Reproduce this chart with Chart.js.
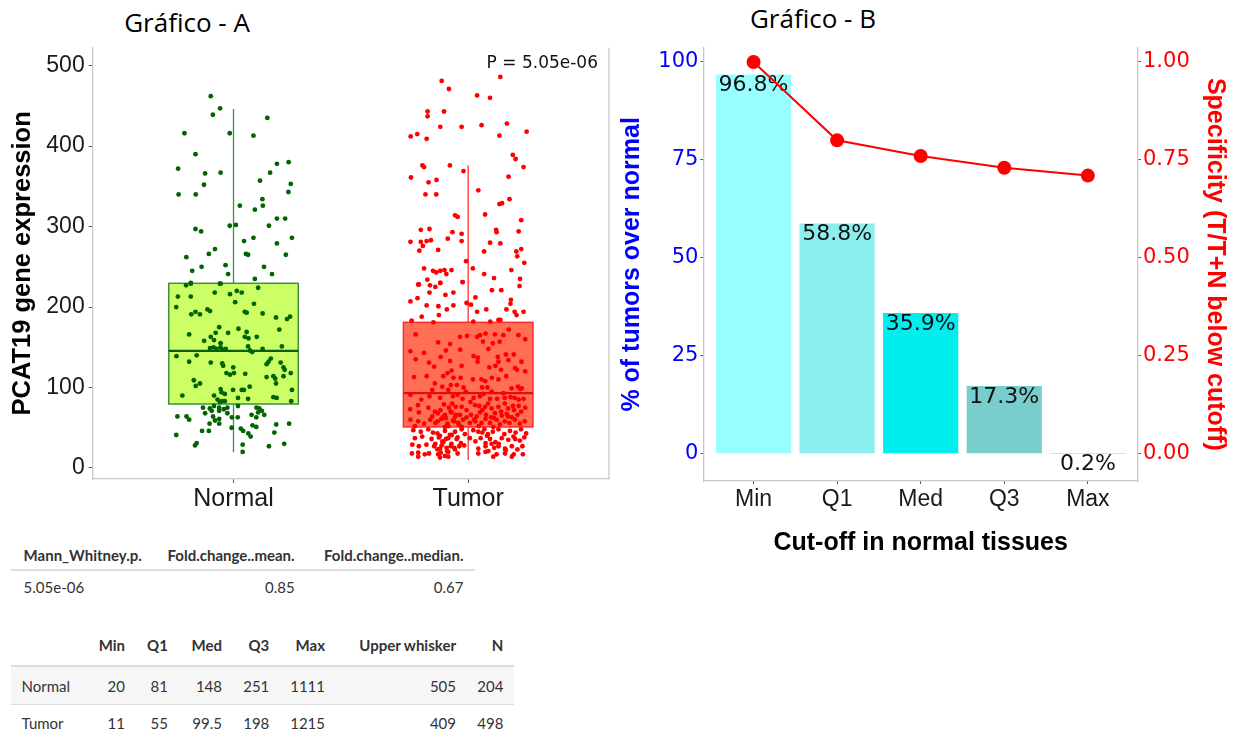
<!DOCTYPE html>
<html>
<head>
<meta charset="utf-8">
<script src="https://cdn.jsdelivr.net/npm/chart.js@4.4.1/dist/chart.umd.min.js"></script>
<style>
html, body { margin: 0; padding: 0; background: #fff; }
body { width: 1237px; height: 733px; position: relative; overflow: hidden; }
.title { position: absolute; font-family: "Open Sans", sans-serif; font-size: 26px; line-height: 26px; color: #000; transform: translateX(-50%); white-space: nowrap; }
#wrapA { position: absolute; left: 0; top: 0; width: 620px; height: 520px; }
#wrapB { position: absolute; left: 620px; top: 0; width: 617px; height: 560px; }
.cell { position: absolute; height: 20px; line-height: 20px; font-family: Lato, sans-serif; font-size: 15px; color: #333; white-space: nowrap; }
.hline { position: absolute; background: #ddd; }
</style>
</head>
<body>
<div class="title" style="left:187px; top:9px;">Gráfico - A</div>
<div class="title" style="left:813px; top:5px;">Gráfico - B</div>
<div id="wrapA"><canvas id="chartA" width="620" height="520"></canvas></div>
<div id="wrapB"><canvas id="chartB" width="617" height="560"></canvas></div>
<div id="tables"></div>
<script>
// ---- Gráfico A: expressão por grupo ----
const groups = ['Normal', 'Tumor'];
const boxLow = [19.5, 10];
const boxQ1 = [79.5, 51];
const boxMedian = [145.5, 93];
const boxQ3 = [229.5, 181];
const boxHigh = [446, 376];
const yTicksA = [0, 100, 200, 300, 400, 500];
const pValueLabel = 'P = 5.05e-06';

// [deslocamento do jitter, expressão]
const normalPoints = [
  [-0.097,462],[-0.057,447],[-0.088,439],[0.144,435],[-0.209,416],[-0.016,416],[0.085,413],[-0.162,390],[-0.236,372],[-0.121,366],
  [-0.055,367],[0.185,378],[0.235,380],[0.156,367],[0.113,357],[0.244,353],[-0.126,352],[-0.234,340],[-0.161,340],[0.234,343],
  [0.123,334],[0.027,326],[0.125,326],[0.091,321],[0.185,310],[0.220,310],[0.151,301],[-0.016,301],[0.010,302],[-0.162,297],
  [-0.138,294],[0.045,282],[0.085,286],[0.185,279],[0.249,286],[-0.079,272],[-0.105,266],[-0.201,262],[0.053,266],[0.062,265],
  [0.223,265],[-0.176,245],[-0.136,250],[-0.034,252],[-0.023,241],[0.130,250],[0.164,241],[0.091,235],[-0.182,230],[-0.055,229],
  [-0.202,227],[-0.182,229],[-0.058,229],[0.105,224],[-0.237,213],[-0.182,213],[-0.080,218],[-0.015,216],[0.014,220],[0.035,218],
  [-0.244,200],[0.007,206],[0.087,204],[-0.180,191],[-0.162,194],[-0.143,191],[-0.111,197],[-0.100,195],[0.048,194],[0.056,193],
  [0.124,192],[0.181,187],[0.228,185],[0.241,188],[-0.061,175],[0.021,173],[0.195,172],[-0.189,166],[-0.076,168],[-0.023,168],
  [0.056,169],[-0.097,163],[-0.125,158],[-0.083,159],[-0.055,155],[0.048,163],[0.064,161],[0.099,163],[0.206,151],[-0.100,149],
  [-0.085,150],[-0.072,148],[-0.055,150],[-0.048,147],[-0.033,148],[0.062,151],[0.070,146],[0.080,144],[0.124,148],[-0.243,139],
  [-0.189,132],[-0.157,140],[-0.097,131],[-0.048,130],[-0.044,127],[-0.001,125],[0.050,117],[0.141,129],[0.149,132],[0.159,136],
  [0.201,131],[0.213,125],[0.218,122],[-0.030,118],[-0.015,116],[0.002,118],[0.141,113],[0.170,114],[0.178,111],[0.213,114],
  [0.244,118],[-0.169,109],[-0.161,102],[-0.143,105],[0.181,105],[-0.055,98],[-0.051,94],[-0.002,97],[0.035,97],[0.044,97],
  [0.069,101],[0.249,97],[-0.218,90],[-0.083,90],[-0.037,92],[0.019,87],[0.062,86],[0.170,88],[0.184,87],[0.246,83],
  [-0.068,85],[-0.058,82],[-0.048,83],[-0.037,83],[-0.130,75],[-0.101,74],[-0.083,77],[-0.061,75],[-0.026,75],[0.019,77],
  [0.098,75],[0.110,74],[-0.121,68],[-0.093,71],[-0.061,71],[-0.041,73],[-0.026,68],[0.105,69],[0.121,71],[0.131,66],
  [-0.239,64],[-0.200,64],[-0.189,60],[-0.087,64],[-0.061,61],[-0.007,63],[0.018,63],[0.077,66],[0.097,63],[-0.102,55],
  [-0.079,59],[-0.061,55],[-0.008,50],[0.031,49],[0.041,46],[0.081,53],[0.097,51],[0.182,54],[0.237,55],[-0.134,46],
  [-0.105,46],[-0.244,41],[0.063,43],[0.073,39],[0.174,44],[-0.164,28],[-0.157,31],[0.039,29],[0.151,27],[0.216,30],
  [0.039,20]
];

const tumorPoints = [
  [0.137,486],[-0.113,481],[-0.082,471],[0.038,463],[0.093,460],[-0.173,443],[-0.173,437],[-0.103,443],[-0.119,424],[-0.028,424],
  [0.057,426],[0.165,428],[0.249,418],[-0.245,412],[-0.217,415],[-0.177,409],[0.133,413],[0.190,389],[0.202,384],[0.236,374],
  [-0.195,376],[-0.188,374],[-0.078,376],[-0.020,369],[-0.244,361],[-0.169,355],[-0.135,358],[0.172,362],[-0.182,340],[-0.136,340],
  [0.043,345],[0.176,334],[0.133,328],[0.144,329],[-0.056,314],[-0.045,312],[0.072,315],[0.226,308],[-0.202,296],[-0.165,297],
  [-0.067,293],[-0.028,291],[0.119,296],[0.121,293],[0.215,294],[-0.246,281],[-0.202,281],[-0.193,276],[-0.177,282],[-0.159,283],
  [-0.208,270],[-0.128,271],[-0.087,285],[-0.028,282],[0.093,280],[0.137,279],[0.068,269],[0.205,269],[0.209,263],[0.226,272],
  [0.239,255],[-0.009,257],[0.020,248],[-0.188,248],[-0.150,245],[-0.136,243],[-0.119,245],[-0.101,246],[-0.093,241],[-0.071,246],
  [0.068,241],[0.110,236],[0.184,246],[0.221,235],[-0.174,234],[-0.213,228],[-0.119,230],[-0.024,231],
  [-0.210,228],[-0.163,227],[-0.140,225],[-0.119,230],[-0.024,231],[0.101,221],[0.141,221],[0.219,226],[-0.165,218],[-0.097,215],
  [-0.063,218],[-0.216,211],[-0.246,207],[-0.177,202],[-0.127,201],[-0.091,197],[-0.063,202],[-0.007,205],[0.012,203],[0.031,212],
  [0.038,194],[0.077,197],[0.182,209],[0.180,204],[0.163,197],[0.198,194],[0.206,190],[0.236,194],[-0.198,188],[-0.125,190],
  [-0.241,183],[-0.148,181],[0.022,182],[0.094,182],[0.129,184],[0.137,184],
  [-0.224,166],[-0.128,156],[-0.035,163],[-0.005,164],[0.038,163],[0.051,165],[0.074,167],[0.114,166],[0.150,165],[0.173,172],
  [0.214,165],[0.243,160],[0.063,157],[0.105,155],[0.134,157],[-0.077,154],[-0.246,145],[-0.188,143],[-0.095,146],[-0.034,147],
  [0.023,139],[0.041,137],[0.086,148],[0.126,138],[0.161,141],[0.194,141],[-0.224,135],[-0.117,138],[-0.167,131],[-0.077,133],
  [0.040,132],[0.129,132],[0.171,134],[0.227,132],[-0.145,126],[-0.028,127],[0.090,125],[0.116,127],[0.200,124],[0.140,122],
  [0.208,122],[0.243,120],[-0.088,118],[-0.071,121],[-0.231,113],[-0.177,114],[-0.106,114],[-0.063,112],[-0.032,112],[0.020,110],
  [0.057,110],[0.073,108],[0.101,112],[0.129,110],[0.162,114],[-0.142,105],[-0.110,101],[-0.074,103],[-0.048,103],[-0.020,100],
  [0.059,100],[0.082,100],[0.185,99],[0.212,101],[0.222,98],[-0.153,97],[-0.085,97],[0.228,99],
  [-0.246,91],[-0.165,89],[-0.120,87],[-0.065,89],[-0.045,91],[-0.024,86],[0.023,87],[0.050,89],[0.093,86],[0.123,86],
  [0.156,87],[0.180,88],[0.198,87],[0.236,86],[-0.247,73],[-0.214,78],[-0.170,75],[-0.103,79],[-0.082,75],[-0.068,80],
  [-0.053,76],[-0.028,76],[-0.007,72],[0.029,78],[0.047,77],[0.072,76],[0.100,74],[0.129,76],[0.156,80],[0.170,74],
  [0.191,77],[0.215,77],[0.243,75],[-0.210,69],[-0.153,64],[-0.130,68],[-0.099,66],[-0.071,69],[-0.056,64],[-0.035,66],
  [-0.007,63],[0.012,66],[0.036,64],[0.050,69],[0.076,66],[0.097,63],[0.114,68],[0.143,65],[0.164,67],[0.186,63],
  [0.210,66],[0.226,70],[-0.246,60],[-0.213,58],[-0.188,55],[-0.162,60],[-0.140,56],[-0.114,61],[-0.088,55],[-0.065,59],
  [-0.043,56],[-0.022,60],[0.007,56],[0.025,60],[0.057,56],[0.074,61],[0.093,56],[0.121,60],[0.135,54],[0.156,58],
  [0.176,56],[0.199,60],[0.220,55],[0.241,58],[-0.227,52],[-0.099,51],[-0.028,51],[0.045,52],[0.107,51],
  [-0.234,47],[-0.202,45],[-0.170,48],[-0.131,43],[-0.099,46],[-0.078,41],[-0.056,45],[-0.028,48],[-0.014,42],[0.022,47],
  [0.043,45],[0.069,48],[0.084,42],[0.105,45],[0.129,48],[0.154,42],[0.178,46],[0.202,44],[0.225,48],[0.247,43],
  [-0.227,37],[-0.196,39],[-0.156,36],[-0.125,38],[-0.106,32],[-0.085,37],[-0.071,30],[-0.049,36],[-0.031,31],[0.007,37],
  [0.031,33],[0.053,37],[0.074,31],[0.093,36],[0.116,32],[0.143,37],[0.171,35],[0.193,39],[0.220,34],[0.239,38],
  [-0.238,29],[-0.210,27],[-0.178,29],[-0.145,27],[-0.131,23],[-0.113,28],[-0.092,25],[-0.074,27],[-0.056,23],[-0.038,27],
  [-0.017,28],[0.043,24],[0.074,27],[0.086,21],[0.111,25],[0.129,27],[0.157,24],[0.186,27],[0.210,23],[0.231,27],
  [-0.240,18],[-0.213,19],[-0.185,17],[-0.167,18],[-0.128,17],[-0.117,19],[-0.099,15],[-0.085,20],[-0.045,18],[0.043,18],
  [0.074,20],[0.121,17],[0.157,18],[0.194,17],[0.233,17],[-0.213,14],[-0.120,13],[-0.085,14],[0.107,14],[0.186,14],
  [-0.142,70],[-0.118,72],[-0.095,62],[-0.075,70],[-0.052,66],[-0.130,58],[-0.108,63],[-0.085,52],[-0.060,58],[-0.040,54],
  [-0.150,44],[-0.120,40],[-0.095,36],[-0.070,41],[-0.045,38],[-0.140,30],[-0.110,33],[-0.090,21],[-0.060,25],[-0.120,24],
  [0.060,72],[0.085,80],[0.110,62],[0.140,70],[0.170,64],[0.195,72],[0.215,85],[0.065,92],[0.100,95],[0.150,93],
  [0.080,40],[0.100,30],[0.060,44],[0.130,30],[0.160,22],[0.200,36],[0.030,58],[0.010,82],[-0.010,95],[-0.200,85]
];

// ---- Gráfico B: cortes ----
const cutoffs = ['Min', 'Q1', 'Med', 'Q3', 'Max'];
const pctTumorsOver = [96.8, 58.8, 35.9, 17.3, 0.2];
const specificity = [1.00, 0.80, 0.76, 0.73, 0.71];
const yTicksB = [0, 25, 50, 75, 100];
const yTicksB2 = [0, 0.25, 0.5, 0.75, 1];

// ---- tabelas ----
const statHeaders = ['Mann_Whitney.p.', 'Fold.change..mean.', 'Fold.change..median.'];
const statValues = ['5.05e-06', '0.85', '0.67'];
const summaryHeaders = ['', 'Min', 'Q1', 'Med', 'Q3', 'Max', 'Upper whisker', 'N'];
const summaryRows = [
  ['Normal', '20', '81', '148', '251', '1111', '505', '204'],
  ['Tumor', '11', '55', '99.5', '198', '1215', '409', '498']
];

const boxStyles = [
  { fill: '#ccff66', border: '#3f8f3f', median: '#0b5e0b', whisker: '#3f8f3f' },
  { fill: '#ff6e55', border: '#ff2a2a', median: '#e01010', whisker: '#ff3030' }
];
const boxHalf = 0.276;
const axisGray = '#c8c8c8';

const boxPlugin = {
  id: 'boxes',
  beforeDatasetsDraw(chart) {
    const { ctx, scales: { x, y } } = chart;
    groups.forEach((g, i) => {
      const st = boxStyles[i];
      const cx = x.getPixelForValue(i);
      const l = x.getPixelForValue(i - boxHalf), r = x.getPixelForValue(i + boxHalf);
      const top = y.getPixelForValue(boxQ3[i]), bot = y.getPixelForValue(boxQ1[i]);
      ctx.save();
      ctx.strokeStyle = st.whisker; ctx.lineWidth = 1.3;
      ctx.beginPath();
      ctx.moveTo(cx, y.getPixelForValue(boxHigh[i]));
      ctx.lineTo(cx, y.getPixelForValue(boxLow[i]));
      ctx.stroke();
      ctx.fillStyle = st.fill;
      ctx.fillRect(l, top, r - l, bot - top);
      ctx.strokeStyle = st.border; ctx.lineWidth = 1.5;
      ctx.strokeRect(l, top, r - l, bot - top);
      const m = y.getPixelForValue(boxMedian[i]);
      ctx.strokeStyle = st.median; ctx.lineWidth = 2.2;
      ctx.beginPath(); ctx.moveTo(l, m); ctx.lineTo(r, m); ctx.stroke();
      ctx.restore();
    });
  }
};

const frameA = {
  id: 'frameA',
  afterDraw(chart) {
    const { ctx, chartArea: a, scales: { y } } = chart;
    ctx.save();
    ctx.strokeStyle = axisGray; ctx.lineWidth = 1.3;
    ctx.beginPath(); ctx.moveTo(a.right, a.top); ctx.lineTo(a.right, a.bottom); ctx.stroke();
    ctx.font = '17px "DejaVu Sans"';
    ctx.fillStyle = '#111'; ctx.textAlign = 'right'; ctx.textBaseline = 'middle';
    ctx.fillText(pValueLabel, a.right - 11, y.getPixelForValue(503));
    ctx.restore();
  }
};

new Chart(document.getElementById('chartA'), {
  type: 'scatter',
  data: {
    datasets: [
      { data: normalPoints.map(p => ({ x: 0 + p[0], y: p[1] })), backgroundColor: '#006400', borderWidth: 0, pointRadius: 2.4 },
      { data: tumorPoints.map(p => ({ x: 1 + p[0], y: p[1] })), backgroundColor: '#ff0000', borderWidth: 0, pointRadius: 2.4 }
    ]
  },
  options: {
    responsive: false, animation: false, devicePixelRatio: 1,
    layout: { padding: { top: 47.7, right: 11, bottom: 0, left: 0 } },
    plugins: { legend: { display: false }, tooltip: { enabled: false } },
    scales: {
      x: {
        type: 'linear', min: -0.6, max: 1.6,
        afterBuildTicks: s => { s.ticks = groups.map((g, i) => ({ value: i })); },
        afterFit: s => { s.height = 41; },
        ticks: { callback: v => groups[v], font: { family: 'Liberation Sans', size: 25 }, color: '#1a1a1a', padding: 1, maxRotation: 0, autoSkip: false },
        grid: { drawOnChartArea: false, tickLength: 4, tickColor: '#555' },
        border: { color: axisGray, width: 1.3 }
      },
      y: {
        min: -13.7, max: 522.3,
        afterBuildTicks: s => { s.ticks = yTicksA.map(v => ({ value: v })); },
        afterFit: s => { s.width = 92.7; },
        ticks: { font: { family: 'Liberation Sans', size: 23 }, color: '#1a1a1a', padding: 4 },
        grid: { drawOnChartArea: false, tickLength: 4, tickColor: '#555' },
        border: { color: axisGray, width: 1.3 },
        title: { display: true, text: 'PCAT19 gene expression', color: '#000', font: { family: 'Liberation Sans', size: 25.5, weight: 'bold', lineHeight: 1 }, padding: { top: 10, bottom: 0 } }
      }
    }
  },
  plugins: [boxPlugin, frameA]
});

const barColors = ['#97ffff', '#8deeee', '#00eeee', '#79cdcd', '#528b8b'];

const barLabels = {
  id: 'barLabels',
  afterDatasetDraw(chart, args) {
    if (args.index !== 1) return;
    const ctx = chart.ctx;
    ctx.save();
    ctx.font = '22px "DejaVu Sans"';
    ctx.fillStyle = '#111'; ctx.textAlign = 'center'; ctx.textBaseline = 'alphabetic';
    args.meta.data.forEach((bar, i) => {
      ctx.fillText(pctTumorsOver[i].toFixed(1) + '%', bar.x, bar.y + 16.7);
    });
    ctx.restore();
  }
};

new Chart(document.getElementById('chartB'), {
  type: 'bar',
  data: {
    datasets: [
      { type: 'line', data: specificity.map((v, i) => ({ x: i, y: v })), yAxisID: 'y2', borderColor: '#ff0000', backgroundColor: '#ff0000', borderWidth: 2, pointRadius: 7, pointBorderWidth: 0, order: 0 },
      { type: 'bar', data: pctTumorsOver.map((v, i) => ({ x: i, y: v })), yAxisID: 'y', backgroundColor: barColors, barPercentage: 0.9, categoryPercentage: 1, order: 1 }
    ]
  },
  options: {
    responsive: false, animation: false, devicePixelRatio: 1,
    layout: { padding: { top: 47.7, right: 0, bottom: 0, left: 0 } },
    plugins: { legend: { display: false }, tooltip: { enabled: false } },
    scales: {
      x: {
        type: 'linear', min: -0.6, max: 4.6, offset: false,
        afterBuildTicks: s => { s.ticks = cutoffs.map((c, i) => ({ value: i })); },
        afterFit: s => { s.height = 79; },
        ticks: { callback: v => cutoffs[v], font: { family: 'Liberation Sans', size: 23 }, color: '#1a1a1a', padding: 2, maxRotation: 0, autoSkip: false },
        grid: { offset: false, drawOnChartArea: false, tickLength: 3, tickColor: '#555' },
        border: { color: axisGray, width: 1.3 },
        title: { display: true, text: 'Cut-off in normal tissues', color: '#000', font: { family: 'Liberation Sans', size: 25, weight: 'bold', lineHeight: 1 }, padding: { top: 0, bottom: 4.5 } }
      },
      y: {
        position: 'left', min: -6.97, max: 103.65,
        afterBuildTicks: s => { s.ticks = yTicksB.map(v => ({ value: v })); },
        afterFit: s => { s.width = 83.4; },
        ticks: { font: { family: 'DejaVu Sans', size: 21 }, color: '#0000ff', padding: 2 },
        grid: { drawOnChartArea: false, tickLength: 3, tickColor: '#555' },
        border: { color: axisGray, width: 1.3 },
        title: { display: true, text: '% of tumors over normal', color: '#0000ff', font: { family: 'Liberation Sans', size: 25, weight: 'bold', lineHeight: 1 }, padding: { top: 0, bottom: 0 } }
      },
      y2: {
        position: 'right', min: -0.0697, max: 1.0365,
        afterBuildTicks: s => { s.ticks = yTicksB2.map(v => ({ value: v })); },
        afterFit: s => { s.width = 99; },
        ticks: { callback: v => v.toFixed(2), font: { family: 'DejaVu Sans', size: 21 }, color: '#ff0000', padding: 2 },
        grid: { drawOnChartArea: false, tickLength: 3, tickColor: '#555' },
        border: { color: axisGray, width: 1.3 },
        title: { display: true, text: 'Specificity (T/T+N below cutoff)', color: '#ff0000', font: { family: 'Liberation Sans', size: 25, weight: 'bold', lineHeight: 1 }, padding: { top: 10, bottom: 0 } }
      }
    }
  },
  plugins: [barLabels]
});

// ---- tabelas em texto ----
const tables = document.getElementById('tables');
function addCell(txt, x, yc, align, bold) {
  const d = document.createElement('div');
  d.className = 'cell';
  d.textContent = txt;
  d.style.top = (yc - 10) + 'px';
  if (align === 'right') { d.style.left = (x - 200) + 'px'; d.style.width = '200px'; d.style.textAlign = 'right'; }
  else { d.style.left = x + 'px'; }
  if (bold) d.style.fontWeight = 'bold';
  tables.appendChild(d);
}
function addLine(x1, x2, y, h, color) {
  const d = document.createElement('div');
  d.className = 'hline';
  d.style.left = x1 + 'px'; d.style.width = (x2 - x1) + 'px';
  d.style.top = y + 'px'; d.style.height = h + 'px';
  if (color) d.style.background = color;
  tables.appendChild(d);
}

const statX = [[23.6, 'left'], [294.6, 'right'], [463.5, 'right']];
addLine(11, 475, 569, 2);
statHeaders.forEach((h, i) => addCell(h, statX[i][0], 555, statX[i][1], true));
statValues.forEach((v, i) => addCell(v, statX[i][0], 587, statX[i][1], false));

const sumX = [21.6, 125, 167.9, 222, 269.3, 325, 456, 503.4];
addLine(11, 513.5, 666, 38, '#f6f6f6');
addLine(11, 513.5, 664.5, 2);
addLine(11, 513.5, 703.5, 1);
summaryHeaders.forEach((h, i) => { if (h) addCell(h, sumX[i], 645, 'right', true); });
summaryRows.forEach((row, r) => {
  const yc = r === 0 ? 685.5 : 723;
  row.forEach((v, i) => addCell(v, sumX[i], yc, i === 0 ? 'left' : 'right', false));
});
</script>
</body>
</html>
